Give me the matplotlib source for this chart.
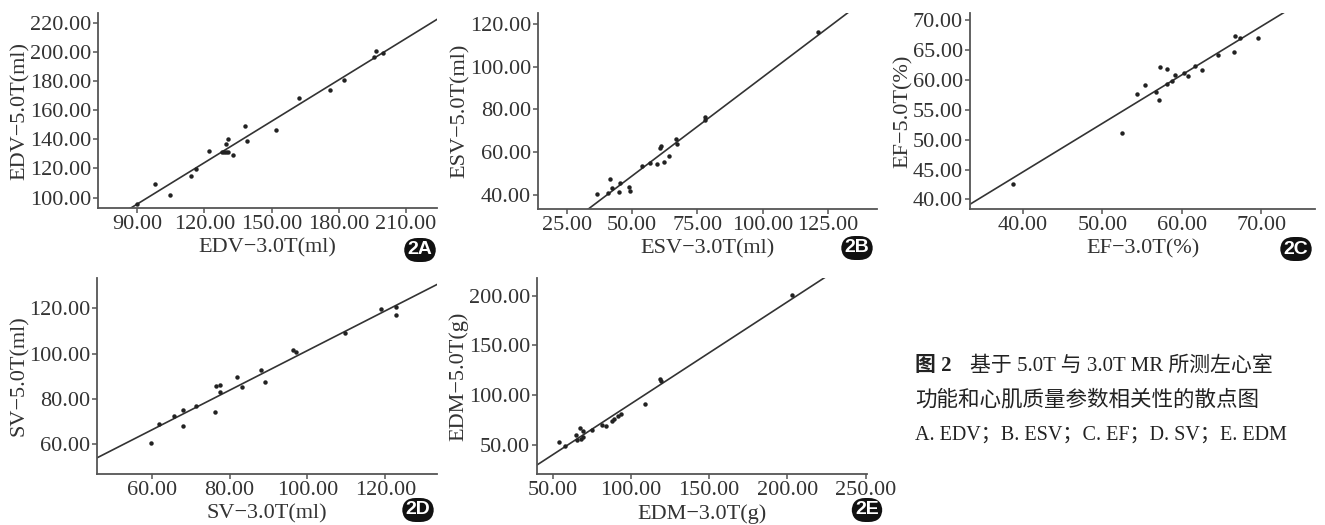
import numpy as np
import matplotlib
matplotlib.use('Agg')
import matplotlib.pyplot as plt

plt.rcParams['font.family'] = ['Liberation Serif', 'DejaVu Serif']
plt.rcParams['axes.unicode_minus'] = True

# 数据：各面板散点 (3.0T, 5.0T)
edv_3t = [89.8, 97.9, 104.6, 113.9, 116.1, 122.1, 127.9, 128.9, 129.5, 130.5, 129.8, 130.7,
          132.6, 138.0, 138.9, 152.1, 162.2, 176.0, 182.4, 195.6, 196.7, 199.6]
edv_5t = [95.5, 109.6, 102.1, 114.9, 119.4, 132.0, 131.5, 131.5, 136.8, 140.5, 131.1, 131.5,
          129.0, 149.4, 138.6, 146.2, 168.3, 173.8, 180.7, 196.2, 200.8, 199.0]

esv_3t = [36.5, 40.6, 41.6, 42.2, 45.0, 45.4, 48.9, 49.0, 53.7, 56.8, 59.6, 60.5, 61.1,
          62.1, 64.0, 66.9, 67.2, 78.0, 77.8, 121.1]
esv_5t = [40.3, 41.2, 47.6, 43.3, 41.6, 45.6, 43.6, 42.0, 53.5, 54.9, 54.3, 62.2, 62.7,
          55.4, 58.4, 66.1, 64.0, 76.4, 74.9, 116.0]

ef_3t = [38.7, 52.4, 54.4, 55.4, 56.8, 57.1, 57.2, 58.1, 58.1, 58.8, 59.1, 60.3, 60.8,
         61.7, 62.6, 64.5, 66.6, 66.7, 67.3, 69.6]
ef_5t = [42.6, 51.1, 57.7, 59.2, 58.0, 56.7, 62.1, 61.9, 59.3, 59.9, 60.9, 61.2, 60.7,
         62.4, 61.7, 64.2, 64.7, 67.4, 67.0, 67.0]

sv_3t = [59.7, 61.9, 65.6, 67.9, 68.0, 71.3, 76.2, 76.4, 77.5, 77.6, 82.0, 83.1, 88.0,
         89.0, 96.3, 97.1, 109.7, 119.0, 122.8, 122.8]
sv_5t = [60.1, 68.5, 72.3, 74.9, 67.9, 76.9, 74.0, 85.6, 86.2, 82.9, 89.7, 85.1, 92.7,
         87.2, 101.5, 100.7, 108.9, 119.9, 120.6, 117.0]

edm_3t = [53.8, 57.6, 65.1, 65.7, 67.2, 67.9, 69.4, 69.6, 75.4, 81.8, 84.4, 88.2, 89.1,
          91.9, 93.4, 108.9, 118.7, 119.1, 202.9]
edm_5t = [52.4, 49.0, 60.1, 54.4, 66.2, 56.0, 63.9, 57.8, 64.5, 70.2, 68.5, 73.6, 75.9,
          78.6, 81.3, 91.1, 116.0, 113.6, 201.3]

panels = [
    dict(x=edv_3t, y=edv_5t, xlabel='EDV−3.0T(ml)', ylabel='EDV−5.0T(ml)', tag='2A',
         xlim=(72.6, 223.8), ylim=(92.9, 226.6), xticks=[90, 120, 150, 180, 210],
         yticks=[100, 120, 140, 160, 180, 200, 220],
         pos=[0.0740, 0.6038, 0.2558, 0.3714], badge=(420, 250)),
    dict(x=esv_3t, y=esv_5t, xlabel='ESV−3.0T(ml)', ylabel='ESV−5.0T(ml)', tag='2B',
         xlim=(13.9, 143.7), ylim=(33.5, 125.0), xticks=[25, 50, 75, 100, 125],
         yticks=[40, 60, 80, 100, 120],
         pos=[0.4060, 0.6019, 0.2558, 0.3733], badge=(857, 248)),
    dict(x=ef_3t, y=ef_5t, xlabel='EF−3.0T(%)', ylabel='EF−5.0T(%)', tag='2C',
         xlim=(33.3, 76.8), ylim=(38.4, 71.2), xticks=[40, 50, 60, 70],
         yticks=[40, 45, 50, 55, 60, 65, 70],
         pos=[0.7321, 0.6019, 0.2604, 0.3733], badge=(1296, 249)),
    dict(x=sv_3t, y=sv_5t, xlabel='SV−3.0T(ml)', ylabel='SV−5.0T(ml)', tag='2D',
         xlim=(45.9, 133.3), ylim=(46.5, 133.5), xticks=[60, 80, 100, 120],
         yticks=[60, 80, 100, 120],
         pos=[0.0732, 0.0971, 0.2566, 0.3733], badge=(418, 510)),
    dict(x=edm_3t, y=edm_5t, xlabel='EDM−3.0T(g)', ylabel='EDM−5.0T(g)', tag='2E',
         xlim=(40.0, 251.0), ylim=(20.3, 217.9), xticks=[50, 100, 150, 200, 250],
         yticks=[50, 100, 150, 200],
         pos=[0.4053, 0.0971, 0.2491, 0.3733], badge=(867, 510)),
]

W, H = 1325, 525
fig = plt.figure(figsize=(W / 100, H / 100), dpi=100)
txt_color = '#333333'
spine_color = '#555555'

for p in panels:
    ax = fig.add_axes(p['pos'])
    xs = np.array(p['x'])
    ys = np.array(p['y'])
    ax.plot(xs, ys, 'o', color='#222222', ms=3.2, mec='none', zorder=3)
    # 拟合线
    k, b = np.polyfit(xs, ys, 1)
    xx = np.array(p['xlim'])
    ax.plot(xx, k * xx + b, color='#333333', lw=1.2)
    ax.set_xlim(p['xlim'])
    ax.set_ylim(p['ylim'])
    ax.set_xticks(p['xticks'])
    ax.set_yticks(p['yticks'])
    ax.xaxis.set_major_formatter(matplotlib.ticker.FormatStrFormatter('%.2f'))
    ax.yaxis.set_major_formatter(matplotlib.ticker.FormatStrFormatter('%.2f'))
    for s in ['top', 'right']:
        ax.spines[s].set_visible(False)
    for s in ['left', 'bottom']:
        ax.spines[s].set_color(spine_color)
        ax.spines[s].set_linewidth(1.3)
    ax.tick_params(direction='out', length=3.5, width=1.1, color=spine_color,
                   labelsize=16, labelcolor=txt_color, pad=1.5)
    ax.set_xlabel(p['xlabel'], fontsize=16, color=txt_color, labelpad=3)
    ax.set_ylabel(p['ylabel'], fontsize=16, color=txt_color, labelpad=0)

    bx, by = p['badge']
    fig.text(bx / W, 1 - by / H, p['tag'], ha='center', va='center', color='white',
             fontsize=14, fontweight='bold', family=['Liberation Sans', 'DejaVu Sans'],
             bbox=dict(boxstyle='round,pad=0.18,rounding_size=0.7', fc='#111111', ec='none'))

# 图注
cap = ['Liberation Serif', 'Noto Sans CJK SC', 'DejaVu Sans']
fig.text(915 / W, 1 - 366 / H, '图 2', fontsize=15, fontweight='bold', family=cap,
         color='#222222', va='center', ha='left')
fig.text(970 / W, 1 - 366 / H, '基于 5.0T 与 3.0T MR 所测左心室', fontsize=15, family=cap,
         color='#222222', va='center', ha='left')
fig.text(915 / W, 1 - 400 / H, '功能和心肌质量参数相关性的散点图', fontsize=15.5, family=cap,
         color='#222222', va='center', ha='left')
fig.text(915 / W, 1 - 435 / H, 'A. EDV；B. ESV；C. EF；D. SV；E. EDM', fontsize=14.5, family=cap,
         color='#222222', va='center', ha='left')

fig.savefig('out.png', dpi=100)
